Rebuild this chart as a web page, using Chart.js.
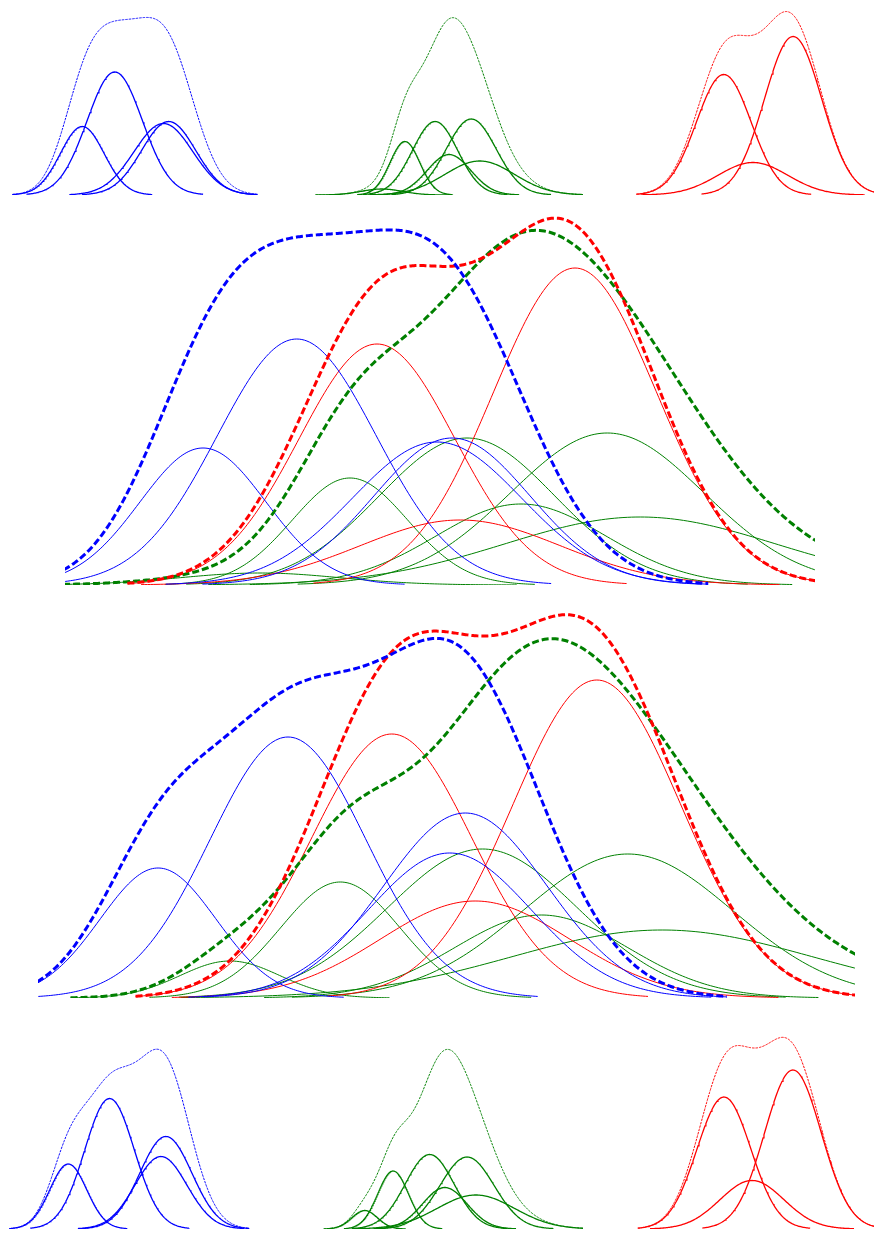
<!DOCTYPE html>
<html>
<head>
<meta charset="utf-8">
<title>Gaussian mixture components</title>
<script src="https://cdn.jsdelivr.net/npm/chart.js@4.4.1/dist/chart.umd.min.js"></script>
<style>
    html, body { margin: 0; padding: 0; background: #ffffff; }
    body { position: relative; width: 874px; height: 1233px; overflow: hidden; }
    canvas { position: absolute; }
</style>
</head>
<body>
<canvas id="top-blue" width="291" height="200" style="left:0;top:0"></canvas>
<canvas id="top-green" width="292" height="200" style="left:291px;top:0"></canvas>
<canvas id="top-red" width="291" height="200" style="left:583px;top:0"></canvas>
<canvas id="top-all" width="874" height="400" style="left:0;top:200px"></canvas>
<canvas id="bottom-all" width="874" height="405" style="left:0;top:600px"></canvas>
<canvas id="bottom-blue" width="291" height="208" style="left:0;top:1025px"></canvas>
<canvas id="bottom-green" width="292" height="208" style="left:291px;top:1025px"></canvas>
<canvas id="bottom-red" width="291" height="208" style="left:583px;top:1025px"></canvas>
<script>
// First fit: component means, standard deviations and peak densities
const topBlueMean = [18.4, 30.9, 49.6, 51.6];
const topBlueSd = [8.4, 10.6, 11.3, 10.4];
const topBluePeak = [0.137, 0.246, 0.143, 0.147];

const topGreenMean = [26.0, 38.0, 53.6, 60.8, 72.3, 76.7];
const topGreenSd = [10.7, 7.7, 11.7, 11.3, 12.9, 18.0];
const topGreenPeak = [0.012, 0.107, 0.147, 0.081, 0.152, 0.068];

const topRedMean = [41.6, 68.0, 52.7];
const topRedSd = [10.4, 10.9, 13.3];
const topRedPeak = [0.241, 0.317, 0.065];

// Second fit
const bottomBlueMean = [14.7, 30.6, 50.4, 52.3];
const bottomBlueSd = [7.1, 9.55, 10.0, 10.0];
const bottomBluePeak = [0.130, 0.261, 0.145, 0.185];

const bottomGreenMean = [23.5, 37.0, 54.4, 61.6, 72.2, 76.4];
const bottomGreenSd = [6.1, 7.3, 11.6, 10.6, 12.85, 18.4];
const bottomGreenPeak = [0.037, 0.116, 0.149, 0.083, 0.144, 0.068];

const bottomRedMean = [43.3, 68.4, 53.5];
const bottomRedSd = [9.8, 10.3, 11.6];
const bottomRedPeak = [0.264, 0.318, 0.097];

const BLUE = '#0000ff';
const GREEN = '#008000';
const RED = '#ff0000';
const SPAN = 3.2;

function bump(x, mean, sd, peak) {
    const d = (x - mean) / sd;
    return peak * Math.exp(-0.5 * d * d);
}

function curve(from, to, steps, fn) {
    const pts = [];
    for (let i = 0; i <= steps; i++) {
        const x = from + (to - from) * i / steps;
        pts.push({ x: x, y: fn(x) });
    }
    return pts;
}

function mixture(means, sds, peaks, color, big) {
    let lo = Infinity, hi = -Infinity;
    means.forEach((m, i) => {
        lo = Math.min(lo, m - SPAN * sds[i]);
        hi = Math.max(hi, m + SPAN * sds[i]);
    });
    const sum = {
        data: curve(lo, hi, 500, x => means.reduce((acc, m, i) => acc + bump(x, m, sds[i], peaks[i]), 0)),
        borderColor: color,
        borderWidth: big ? 3 : 1,
        borderDash: big ? [7, 3] : [2.5, 1]
    };
    const parts = means.map((m, i) => ({
        data: curve(m - SPAN * sds[i], m + SPAN * sds[i], 200, x => bump(x, m, sds[i], peaks[i])),
        borderColor: color,
        borderWidth: big ? 1 : 1.3
    }));
    return { sum, parts };
}

function makeChart(id, datasets, xMin, xMax, yMax, padding) {
    datasets.forEach(ds => {
        ds.showLine = true;
        ds.fill = false;
        ds.pointRadius = 0;
        ds.tension = 0;
    });
    return new Chart(document.getElementById(id), {
        type: 'scatter',
        data: { datasets: datasets },
        options: {
            responsive: false,
            animation: false,
            events: [],
            layout: { padding: padding },
            plugins: { legend: { display: false }, tooltip: { enabled: false } },
            scales: {
                x: { type: 'linear', display: false, min: xMin, max: xMax },
                y: { type: 'linear', display: false, min: 0, max: yMax }
            }
        }
    });
}

function single(id, mix, xMin, xMax, yMax, padding) {
    makeChart(id, [mix.sum, ...mix.parts], xMin, xMax, yMax, padding);
}

function combined(id, mixes, xMin, xMax, yMax, padding) {
    const sets = mixes.map(m => m.sum);
    mixes.forEach(m => sets.push(...m.parts));
    makeChart(id, sets, xMin, xMax, yMax, padding);
}

// top row and first large panel
const smallTopPad = { left: 0, right: 0, top: 5, bottom: 5 };
single('top-blue', mixture(topBlueMean, topBlueSd, topBluePeak, BLUE, false), -13.2, 98.6, 0.380, smallTopPad);
single('top-green', mixture(topGreenMean, topGreenSd, topGreenPeak, GREEN, false), -20.9, 130.1, 0.380, smallTopPad);
single('top-red', mixture(topRedMean, topRedSd, topRedPeak, RED, false), -12.0, 98.8, 0.380, smallTopPad);
combined('top-all', [
    mixture(topBlueMean, topBlueSd, topBluePeak, BLUE, true),
    mixture(topRedMean, topRedSd, topRedPeak, RED, true),
    mixture(topGreenMean, topGreenSd, topGreenPeak, GREEN, true)
], 0, 100, 0.370, { left: 65, right: 59, top: 15, bottom: 15 });

// second large panel and bottom row
combined('bottom-all', [
    mixture(bottomBlueMean, bottomBlueSd, bottomBluePeak, BLUE, true),
    mixture(bottomRedMean, bottomRedSd, bottomRedPeak, RED, true),
    mixture(bottomGreenMean, bottomGreenSd, bottomGreenPeak, GREEN, true)
], 0, 100, 0.386, { left: 38, right: 19, top: 12, bottom: 7 });
const smallBottomPad = { left: 0, right: 0, top: 10, bottom: 4 };
single('bottom-blue', mixture(bottomBlueMean, bottomBlueSd, bottomBluePeak, BLUE, false), -11.6, 100.5, 0.388, smallBottomPad);
single('bottom-green', mixture(bottomGreenMean, bottomGreenSd, bottomGreenPeak, GREEN, false), -11.6, 127.4, 0.388, smallBottomPad);
single('bottom-red', mixture(bottomRedMean, bottomRedSd, bottomRedPeak, RED, false), -8.0, 97.9, 0.388, smallBottomPad);
</script>
</body>
</html>
